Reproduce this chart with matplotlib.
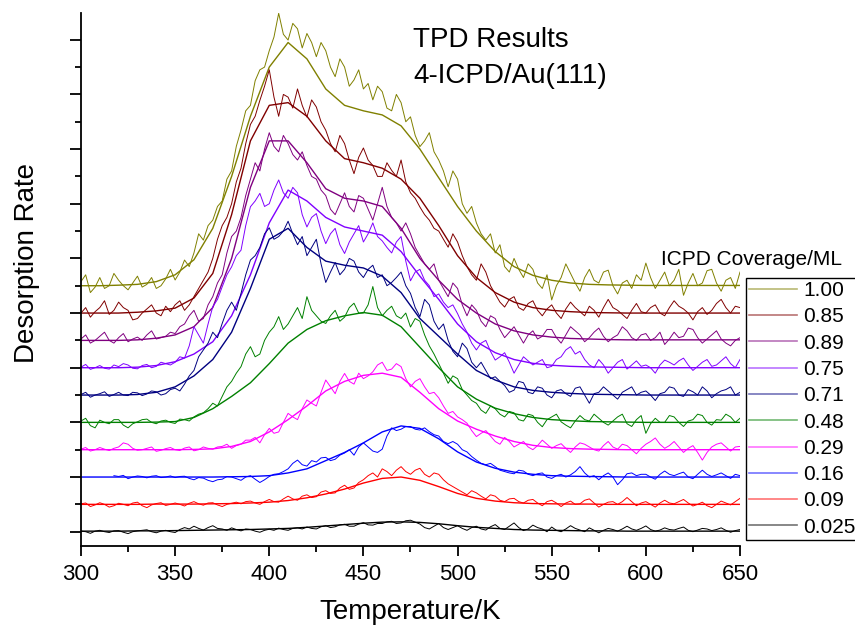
import numpy as np
import matplotlib
matplotlib.use('Agg')
import matplotlib.pyplot as plt
from matplotlib.lines import Line2D
from matplotlib.ticker import MultipleLocator

plt.rcParams['font.family'] = ['Liberation Sans', 'DejaVu Sans']

# temperature grids (K): raw spectra every 2.5 K, fitted curves every 10 K
T_RAW = np.arange(300, 650.1, 2.5)
T_FIT = np.arange(300, 651, 10)

# coverage labels, top trace first
coverages = ['1.00', '0.85', '0.89', '0.75', '0.71', '0.48', '0.29', '0.16', '0.09', '0.025']
colors = ['#808000', '#800000', '#800080', '#8000ff', '#000080',
          '#008000', '#ff00ff', '#0000ff', '#ff0000', '#000000']
offsets = [9, 8, 7, 6, 5, 4, 3, 2, 1, 0]

# desorption rate (arb. units, relative to each trace's baseline)
raw_100 = [0.15, 0.4, -0.25, -0.05, 0.3, -0.1, 0.0, 0.45, 0.2, 0.0, -0.15, 0.1, 0.35, -0.05, 0.05, 0.3, -0.1, 0.0, 0.25, 0.6,
           0.21, 0.5, 0.94, 0.7, 1.2, 1.9, 1.67, 2.2, 2.4, 2.9, 3.1, 3.9, 4.2, 5.1, 5.7, 6.4, 6.6, 7.5, 7.9, 8.0,
           8.6, 9.1, 9.97, 9.2, 8.99, 9.6, 9.4, 8.7, 9.23, 8.9, 8.38, 8.9, 8.6, 8.0, 7.65, 8.3, 8.0, 7.3, 7.53, 7.9,
           7.2, 7.4, 6.8, 7.3, 7.1, 6.5, 6.4, 7.0, 6.7, 6.0, 6.18, 5.5, 5.09, 5.3, 5.6, 4.9, 4.6, 4.2, 3.62, 4.2,
           3.9, 3.0, 2.65, 2.9, 2.3, 1.9, 1.67, 1.9, 1.2, 1.5, 0.7, 0.5, 1.0, 0.6, 0.3, 0.8, 0.6, 0.1, -0.1, 0.4,
           -0.52, 0.0, 0.3, 0.8, 0.45, 0.1, -0.2, 0.3, 0.6, 0.2, 0.1, 0.5, 0.57, 0.0, -0.3, 0.1, 0.2, -0.1, 0.4, 0.2,
           0.83, 0.3, -0.1, 0.2, 0.5, 0.0, 0.2, 0.6, -0.35, 0.1, 0.45, 0.0, 0.1, 0.55, 0.6, 0.1, -0.2, 0.2, 0.3, -0.1,
           0.5]
fit_100 = [0, 0, 0.02, 0.05, 0.15, 0.4, 0.95, 2.1, 4.0, 6.2,
           8.0, 8.9, 8.3, 7.2, 6.6, 6.4, 6.25, 5.85, 5.0, 3.95,
           2.9, 2.0, 1.25, 0.7, 0.38, 0.2, 0.1, 0.05, 0.03, 0.02,
           0.01, 0.01, 0.01, 0.01, 0.01, 0.01]

raw_085 = [0.0, 0.2, -0.15, 0.05, 0.2, 0.45, -0.05, 0.1, 0.4, 0.2, 0.1, -0.25, -0.2, 0.0, 0.15, 0.3, 0.0, -0.1, 0.25, 0.05,
           0.3, 0.45, 0.1, 0.3, 0.6, 0.9, 1.2, 1.5, 2.0, 2.7, 3.2, 3.5, 4.0, 4.8, 5.3, 6.2, 6.9, 7.2, 7.78, 8.3,
           8.9, 7.9, 7.2, 8.0, 7.9, 7.5, 8.2, 7.6, 7.17, 7.8, 7.54, 7.0, 6.69, 6.2, 5.9, 6.5, 6.2, 5.6, 5.1, 5.7,
           6.04, 5.6, 5.4, 5.0, 5.0, 5.5, 5.22, 5.0, 5.6, 4.8, 4.4, 4.2, 3.88, 3.6, 3.4, 3.1, 3.0, 2.7, 2.41, 2.9,
           2.6, 2.1, 1.7, 1.4, 1.2, 1.8, 1.5, 1.0, 0.7, 0.4, 0.22, 0.5, 0.6, 0.2, 0.1, 0.35, 0.45, 0.1, -0.1, 0.15,
           0.3, 0.0, -0.2, 0.15, 0.4, 0.2, 0.05, -0.1, 0.25, 0.1, -0.15, 0.2, 0.5, 0.2, 0.1, -0.05, -0.2, 0.1, 0.35, 0.05,
           0.0, 0.2, 0.3, 0.0, -0.1, 0.2, 0.45, 0.25, 0.15, 0.0, -0.25, 0.05, 0.2, -0.05, 0.1, 0.35, 0.5, 0.2, 0.0, 0.25,
           0.2]
fit_085 = [0, 0, 0, 0.03, 0.08, 0.18, 0.55, 1.45, 3.6, 6.3,
           7.6, 7.7, 7.2, 6.3, 5.65, 5.5, 5.3, 4.9, 4.2, 3.2,
           2.1, 1.3, 0.75, 0.4, 0.2, 0.1, 0.05, 0.02, 0.01, 0,
           0, 0, 0, 0, 0, 0]

raw_089 = [0.05, 0.2, -0.1, 0.0, 0.15, 0.3, 0.0, -0.1, 0.1, 0.25, -0.05, 0.05, 0.12, 0.0, 0.2, 0.35, 0.05, 0.1, 0.15, 0.3,
           0.25, 0.5, 0.6, 0.9, 1.1, 0.7, 0.8, 1.3, 1.6, 2.1, 2.4, 3.2, 3.8, 4.0, 4.5, 5.3, 5.9, 6.5, 6.2, 7.0,
           7.6, 7.1, 6.9, 7.5, 7.2, 6.8, 6.6, 6.9, 6.4, 6.0, 5.9, 5.5, 5.3, 4.8, 4.6, 5.0, 5.4, 4.9, 4.7, 5.3,
           5.2, 4.8, 4.4, 5.0, 5.6, 4.9, 4.5, 4.3, 4.0, 4.3, 3.9, 3.4, 3.1, 2.8, 2.6, 2.8, 2.2, 1.9, 1.6, 2.1,
           1.9, 1.3, 0.9, 1.3, 1.1, 0.7, 0.5, 0.9, 0.8, 0.4, 0.1, 0.3, 0.5, 0.2, -0.1, 0.2, 0.35, 0.05, 0.15, 0.4,
           0.4, 0.1, -0.1, 0.2, 0.5, 0.35, 0.2, -0.05, 0.1, 0.3, 0.45, 0.15, -0.05, 0.1, 0.2, 0.5, 0.35, 0.1, 0.0, 0.2,
           0.25, 0.0, 0.1, 0.3, -0.15, 0.05, 0.3, 0.1, 0.15, 0.45, 0.4, 0.1, -0.1, 0.05, 0.2, 0.35, 0.05, -0.1, -0.2, 0.0,
           0.1]
fit_089 = [0, 0, 0, 0.02, 0.08, 0.2, 0.5, 1.2, 3.0, 5.6,
           7.3, 7.3, 6.5, 5.55, 5.2, 5.1, 4.9, 4.1, 3.0, 2.2,
           1.5, 1.0, 0.6, 0.35, 0.2, 0.12, 0.07, 0.05, 0.03, 0.02,
           0.02, 0.02, 0.02, 0.02, 0.02, 0.02]

raw_075 = [0.02, 0.12, -0.06, 0.0, 0.08, -0.02, -0.05, 0.1, 0.04, 0.15, 0.1, -0.02, -0.04, 0.08, 0.12, 0.0, 0.05, 0.2, 0.15, 0.1,
           0.2, 0.4, 0.35, 0.8, 1.5, 1.2, 0.9, 1.6, 2.23, 2.5, 2.96, 3.4, 3.69, 4.1, 4.3, 5.2, 5.89, 6.1, 6.38, 5.9,
           6.0, 6.5, 6.87, 6.4, 6.2, 6.6, 6.4, 5.6, 5.15, 5.5, 5.64, 5.0, 4.54, 4.9, 5.1, 4.5, 4.18, 4.6, 4.9, 5.2,
           4.6, 4.9, 5.3, 4.8, 4.64, 4.4, 4.2, 4.6, 4.8, 3.9, 3.18, 3.5, 3.6, 3.2, 3.0, 2.6, 2.7, 2.4, 2.2, 2.3,
           1.98, 1.6, 1.3, 0.9, 0.65, 0.9, 1.0, 0.6, 0.28, 0.4, 0.55, 0.2, -0.2, 0.1, 0.4, 0.25, 0.1, 0.2, 0.3, 0.0,
           0.05, 0.3, 0.4, 0.65, 0.77, 0.5, 0.6, 0.3, 0.1, 0.0, 0.3, 0.1, -0.2, 0.0, 0.2, 0.3, -0.05, 0.1, 0.25, 0.05,
           0.1, 0.0, -0.2, 0.1, 0.28, 0.2, 0.1, 0.25, 0.35, 0.1, -0.1, 0.05, 0.2, 0.3, 0.05, 0.1, 0.25, 0.4, 0.15, 0.0,
           0.3]
fit_075 = [0, 0, 0, 0.02, 0.08, 0.22, 0.5, 0.95, 1.9, 3.4,
           5.3, 6.5, 6.1, 5.5, 5.15, 5.0, 4.85, 4.25, 3.35, 2.5,
           1.6, 0.95, 0.55, 0.3, 0.16, 0.09, 0.05, 0.03, 0.02, 0.01,
           0, 0, 0, 0, 0, 0]

raw_071 = [0.02, 0.1, -0.08, 0.0, 0.05, 0.12, -0.05, 0.02, 0.1, 0.0, -0.02, 0.1, 0.08, -0.02, 0.04, 0.15, 0.12, 0.0, 0.05, 0.2,
           0.25, 0.15, 0.4, 0.7, 0.9, 1.4, 1.65, 1.9, 2.3, 2.1, 2.62, 3.1, 3.4, 3.1, 3.72, 4.4, 4.94, 5.1, 5.4, 5.9,
           6.12, 5.7, 5.8, 6.0, 6.36, 5.9, 5.5, 5.8, 5.1, 5.4, 5.7, 4.8, 4.12, 4.5, 4.85, 4.4, 4.6, 5.0, 4.9, 4.5,
           4.3, 4.6, 4.75, 4.3, 4.4, 4.0, 4.12, 4.3, 4.5, 4.0, 3.72, 3.2, 2.87, 3.5, 3.3, 2.7, 2.4, 2.6, 2.0, 1.6,
           1.4, 1.9, 1.7, 1.2, 1.0, 1.2, 0.9, 0.6, 0.67, 0.5, 0.35, 0.1, 0.18, 0.5, 0.45, 0.1, 0.05, 0.3, 0.25, 0.0,
           -0.1, 0.15, 0.2, 0.05, -0.05, 0.25, 0.3, 0.0, -0.3, 0.05, 0.1, 0.3, 0.15, 0.0, -0.15, 0.1, 0.2, 0.3, 0.0, 0.1,
           0.15, 0.0, -0.2, 0.05, 0.1, 0.3, 0.25, 0.0, -0.05, 0.2, 0.12, 0.0, 0.3, 0.15, -0.1, 0.05, 0.15, 0.2, 0.3, 0.0,
           0.1]
fit_071 = [0, 0, 0, 0.02, 0.1, 0.3, 0.7, 1.3, 2.3, 3.9,
           5.7, 6.1, 5.4, 4.9, 4.75, 4.65, 4.35, 3.75, 2.8, 2.15,
           1.5, 0.9, 0.55, 0.3, 0.17, 0.1, 0.06, 0.03, 0.02, 0.01,
           0, 0, 0, 0, 0, 0]

raw_048 = [0.05, 0.15, -0.12, -0.2, 0.08, 0.0, -0.05, 0.1, 0.1, -0.1, -0.2, -0.05, 0.02, 0.1, 0.12, 0.0, -0.05, 0.05, 0.08, 0.0,
           -0.04, 0.12, 0.1, 0.05, 0.2, 0.3, 0.35, 0.5, 0.7, 0.6, 0.95, 1.3, 1.5, 1.8, 2.04, 2.5, 2.77, 2.4, 2.5, 3.0,
           3.3, 3.5, 3.87, 3.4, 3.6, 3.9, 4.2, 3.8, 4.6, 4.1, 3.9, 3.7, 3.62, 3.9, 4.1, 3.7, 3.85, 4.2, 4.36, 4.0,
           4.0, 4.3, 4.97, 4.2, 3.9, 4.1, 4.25, 3.9, 3.8, 4.0, 3.49, 3.8, 3.7, 3.2, 2.8, 2.5, 2.15, 1.8, 1.43, 1.7,
           1.6, 1.2, 1.0, 0.8, 0.7, 0.45, 0.33, 0.6, 0.5, 0.3, 0.2, 0.4, 0.35, 0.1, 0.05, 0.3, 0.25, 0.0, -0.16, 0.1,
           0.2, 0.3, 0.02, -0.1, -0.2, 0.05, 0.25, 0.1, 0.05, 0.3, 0.15, 0.0, -0.1, 0.05, 0.2, 0.3, -0.05, -0.15, 0.1, 0.25,
           -0.4, -0.05, 0.15, 0.0, 0.0, 0.25, 0.2, 0.0, -0.15, 0.05, 0.1, 0.3, 0.25, 0.0, -0.1, 0.1, 0.08, 0.3, 0.2, 0.0,
           0.15]
fit_048 = [0, 0, 0, 0, 0.01, 0.03, 0.18, 0.5, 0.95, 1.45,
           2.15, 2.9, 3.4, 3.72, 3.9, 4.02, 3.92, 3.5, 2.75, 2.0,
           1.3, 0.85, 0.52, 0.32, 0.18, 0.1, 0.06, 0.03, 0.02, 0.01,
           0, 0, 0, 0, 0, 0]

raw_029 = [0.02, 0.08, -0.05, 0.0, 0.08, 0.02, -0.03, 0.05, 0.1, 0.25, 0.2, 0.05, -0.02, 0.0, 0.05, 0.1, -0.06, -0.02, 0.04, 0.08,
           0.0, -0.03, 0.06, 0.1, -0.04, 0.0, 0.1, 0.05, 0.02, 0.1, 0.12, 0.2, 0.05, 0.15, 0.2, 0.35, 0.35, 0.45, 0.25, 0.55,
           0.78, 0.6, 0.65, 1.0, 1.33, 1.2, 1.1, 1.5, 1.82, 1.7, 1.6, 2.1, 2.55, 2.3, 2.05, 2.5, 2.79, 2.5, 2.4, 2.8,
           2.6, 2.7, 2.85, 3.1, 3.2, 2.9, 2.95, 3.15, 3.04, 2.6, 2.3, 2.5, 2.6, 2.3, 2.05, 2.1, 1.9, 1.6, 1.33, 1.4,
           1.2, 1.1, 0.97, 0.7, 0.48, 0.6, 0.7, 0.5, 0.3, 0.2, 0.45, 0.3, 0.1, 0.2, 0.3, 0.1, 0.0, 0.15, 0.35, 0.2,
           0.05, 0.15, 0.22, 0.05, -0.1, 0.1, 0.25, 0.2, 0.1, 0.0, -0.05, 0.15, 0.3, 0.1, 0.02, 0.2, 0.15, 0.0, -0.15, 0.05,
           0.2, 0.3, 0.43, 0.2, 0.05, 0.15, 0.3, 0.1, -0.1, 0.05, 0.15, -0.1, -0.38, -0.1, 0.1, 0.2, 0.25, 0.1, -0.05, 0.1,
           0.12]
fit_029 = [0, 0, 0, 0, 0, 0, 0.01, 0.03, 0.12, 0.3,
           0.65, 1.1, 1.6, 2.15, 2.5, 2.72, 2.8, 2.65, 2.1, 1.5,
           1.05, 0.75, 0.5, 0.3, 0.16, 0.08, 0.04, 0.02, 0.01, 0,
           0, 0, 0, 0, 0, 0]

nan = np.nan
raw_016 = [nan, nan, nan, nan, nan, nan, nan, 0.05, 0.02, 0.06, -0.06, 0.0, 0.04, 0.02, -0.03, 0.03, 0.05, -0.02, 0.0, 0.04,
           -0.02, 0.02, 0.03, -0.05, -0.1, -0.02, -0.04, -0.12, -0.17, -0.1, -0.08, 0.02, 0.0, -0.06, -0.12, 0.0, 0.05, -0.08, -0.2, -0.1,
           0.02, 0.1, 0.12, 0.2, 0.3, 0.5, 0.62, 0.45, 0.4, 0.6, 0.55, 0.7, 0.72, 0.6, 0.65, 0.8, 0.88, 1.0, 0.8, 1.1,
           1.25, 1.1, 0.95, 0.9, 1.02, 1.5, 1.8, 1.7, 1.75, 1.85, 1.85, 1.75, 1.72, 1.8, 1.66, 1.55, 1.5, 1.3, 1.22, 1.3,
           1.2, 1.0, 0.92, 0.75, 0.62, 0.5, 0.45, 0.5, 0.38, 0.25, 0.2, 0.15, 0.12, 0.25, 0.22, 0.1, 0.05, 0.12, 0.15, 0.0,
           -0.05, 0.05, 0.1, 0.0, 0.08, 0.2, 0.38, 0.15, 0.0, 0.05, -0.1, 0.05, 0.15, 0.0, -0.28, -0.1, 0.12, 0.15, 0.05, 0.1,
           0.1, 0.0, -0.08, 0.1, 0.22, 0.1, 0.05, 0.12, 0.18, 0.0, -0.06, 0.1, 0.25, 0.1, 0.02, 0.08, 0.15, 0.05, -0.05, 0.1,
           0.05]
fit_016 = [0, 0, 0, 0, 0, 0, 0, 0, 0.01, 0.02,
           0.05, 0.15, 0.3, 0.6, 0.9, 1.25, 1.65, 1.87, 1.78, 1.4,
           0.92, 0.55, 0.32, 0.18, 0.1, 0.05, 0.03, 0.02, 0.01, 0,
           0, 0, 0, 0, 0, 0]

raw_009 = [0.02, 0.05, -0.08, -0.02, 0.06, 0.0, -0.1, -0.05, 0.04, 0.0, -0.05, 0.05, 0.08, -0.05, -0.12, -0.02, 0.03, 0.06, -0.04, 0.0,
           0.05, 0.0, -0.06, 0.04, 0.1, 0.02, -0.03, 0.05, 0.06, -0.02, -0.08, 0.0, 0.04, 0.08, 0.02, 0.1, 0.12, 0.05, 0.0, 0.1,
           0.18, 0.1, 0.08, 0.2, 0.3, 0.2, 0.15, 0.3, 0.35, 0.25, 0.28, 0.45, 0.5, 0.4, 0.42, 0.6, 0.7, 0.55, 0.6, 0.8,
           0.9, 1.05, 1.15, 1.0, 1.3, 1.2, 1.05, 1.25, 1.38, 1.2, 1.1, 1.25, 1.32, 1.1, 1.0, 1.15, 1.1, 0.9, 0.75, 0.65,
           0.55, 0.45, 0.35, 0.5, 0.42, 0.3, 0.2, 0.35, 0.3, 0.15, 0.1, 0.2, 0.22, 0.1, 0.05, 0.15, 0.18, 0.05, -0.05, 0.1,
           0.15, 0.05, -0.08, 0.05, 0.12, 0.0, 0.02, 0.15, 0.2, 0.05, -0.1, 0.0, 0.08, 0.1, 0.0, 0.1, 0.25, 0.1, -0.05, 0.05,
           0.1, 0.0, -0.1, 0.05, 0.15, 0.05, 0.02, 0.1, 0.18, 0.05, -0.06, 0.0, 0.08, -0.05, -0.12, 0.0, 0.12, 0.05, -0.02, 0.1,
           0.22]
fit_009 = [0, 0, 0, 0, 0.01, 0.01, 0.01, 0.02, 0.03, 0.05,
           0.08, 0.14, 0.24, 0.38, 0.56, 0.78, 0.95, 1.0, 0.88, 0.65,
           0.4, 0.22, 0.12, 0.06, 0.03, 0.02, 0.01, 0.01, 0, 0,
           0, 0, 0, 0, 0, 0]

raw_0025 = [0.02, 0.0, -0.06, 0.02, 0.05, 0.0, -0.03, 0.03, 0.04, -0.02, -0.07, 0.0, 0.03, 0.05, 0.07, 0.0, -0.04, 0.02, 0.05, 0.0,
            -0.03, 0.08, 0.15, 0.1, 0.2, 0.12, 0.06, 0.15, 0.22, 0.12, 0.1, 0.05, 0.14, 0.08, 0.03, 0.1, 0.08, 0.02, -0.02, 0.05,
            0.09, 0.05, 0.13, 0.08, 0.05, 0.12, 0.14, 0.1, 0.17, 0.12, 0.1, 0.18, 0.22, 0.15, 0.18, 0.25, 0.27, 0.2, 0.2, 0.28,
            0.33, 0.25, 0.24, 0.3, 0.3, 0.36, 0.38, 0.3, 0.32, 0.4, 0.42, 0.35, 0.28, 0.15, 0.1, 0.2, 0.3, 0.15, 0.08, 0.15,
            0.22, 0.12, 0.05, 0.15, 0.2, 0.1, 0.06, 0.18, 0.26, 0.12, 0.08, 0.2, 0.32, 0.15, 0.04, 0.1, 0.24, 0.15, 0.1, 0.0,
            0.17, 0.05, 0.0, 0.1, 0.22, 0.12, 0.06, 0.0, 0.14, 0.05, -0.04, 0.05, 0.12, 0.08, 0.02, 0.1, 0.2, 0.1, 0.05, 0.12,
            0.21, 0.08, 0.02, 0.06, 0.14, 0.08, 0.06, 0.12, 0.17, 0.05, 0.0, 0.06, 0.12, 0.1, 0.04, 0.08, 0.14, 0.05, -0.02, 0.04,
            0.08]
fit_0025 = [0.02, 0.02, 0.02, 0.03, 0.03, 0.04, 0.05, 0.06, 0.07, 0.08,
            0.1, 0.12, 0.16, 0.21, 0.26, 0.31, 0.35, 0.36, 0.34, 0.29,
            0.22, 0.16, 0.12, 0.08, 0.06, 0.05, 0.04, 0.03, 0.03, 0.02,
            0.02, 0.02, 0.02, 0.02, 0.02, 0.02]

raw_sets = [raw_100, raw_085, raw_089, raw_075, raw_071, raw_048, raw_029, raw_016, raw_009, raw_0025]
fit_sets = [fit_100, fit_085, fit_089, fit_075, fit_071, fit_048, fit_029, fit_016, fit_009, fit_0025]

fig = plt.figure(figsize=(8.55, 6.26), dpi=100)
ax = fig.add_axes([0.0947, 0.1283, 0.7708, 0.8514])

for raw, fit, color, off in zip(raw_sets, fit_sets, colors, offsets):
	ax.plot(T_RAW, np.array(raw) + off, color=color, lw=0.7)
	ax.plot(T_FIT, np.array(fit) + off, color=color, lw=1.0)

ax.set_xlim(300, 650)
ax.set_ylim(-0.512, 18.99)
ax.spines['top'].set_visible(False)
ax.spines['right'].set_visible(False)
for s in ('left', 'bottom'):
	ax.spines[s].set_linewidth(1.3)

ax.xaxis.set_major_locator(MultipleLocator(50))
ax.xaxis.set_minor_locator(MultipleLocator(25))
ax.yaxis.set_major_locator(MultipleLocator(2))
ax.yaxis.set_minor_locator(MultipleLocator(1))
ax.tick_params(axis='x', which='major', direction='out', length=7.5, width=1.3, labelsize=16, pad=6)
ax.tick_params(axis='x', which='minor', direction='out', length=4.5, width=1.3)
ax.tick_params(axis='y', which='major', direction='out', length=8, width=1.3, labelleft=False)
ax.tick_params(axis='y', which='minor', direction='out', length=4.5, width=1.3)

ax.set_xlabel('Temperature/K', fontsize=20, labelpad=10)
fig.text(27 / 855, 1 - 263 / 626, 'Desorption Rate', fontsize=20, rotation=90, ha='center', va='center')

fig.text(413 / 855, 1 - 47 / 626, 'TPD Results', fontsize=20, va='baseline')
fig.text(413 / 855, 1 - 83 / 626, '4-ICPD/Au(111)', fontsize=20, va='baseline')

# legend: title drawn outside the box as in the original
fig.text(661 / 855, 1 - 265 / 626, 'ICPD Coverage/ML', fontsize=15, va='baseline')
handles = [Line2D([], [], color=c, lw=1.2, alpha=0.55) for c in colors]
leg = fig.legend(handles, coverages, loc='upper left', bbox_to_anchor=(746 / 855, 1 - 278 / 626),
	fontsize=15, frameon=True, fancybox=False, framealpha=1, edgecolor='black',
	handlelength=2.3, handletextpad=0.3, labelspacing=0.35, borderpad=0.15, borderaxespad=0)
leg.get_frame().set_linewidth(1.0)

plt.savefig('out.png', dpi=100)
